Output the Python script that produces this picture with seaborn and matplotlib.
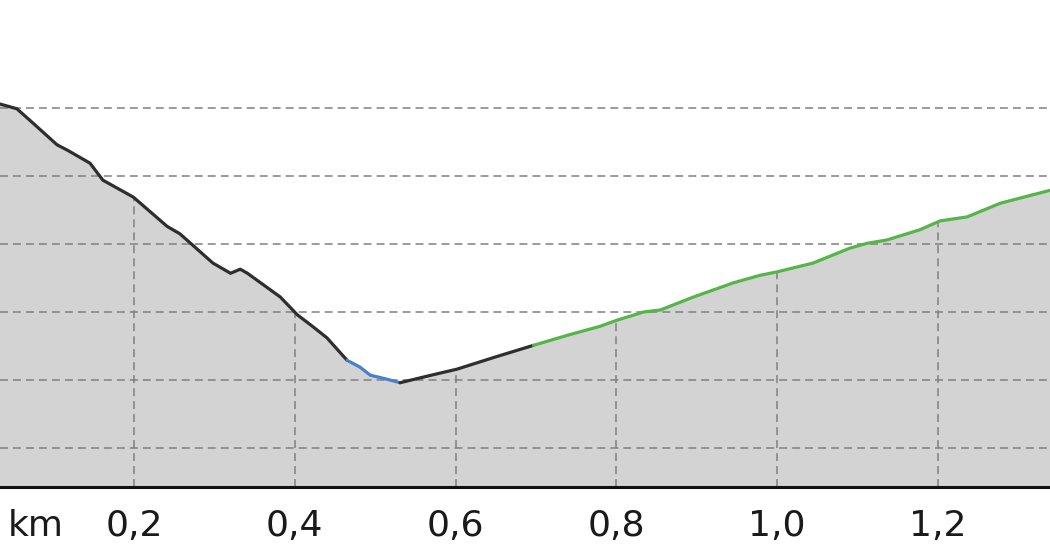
import numpy as np
import pandas as pd
import seaborn as sns
import matplotlib.pyplot as plt

# profile: distance (km) and relative elevation (m)
dist_km = [0.033, 0.054, 0.074, 0.104, 0.117, 0.145, 0.161, 0.199, 0.241, 0.257,
           0.298, 0.320, 0.332, 0.341, 0.382, 0.403, 0.423, 0.440, 0.465, 0.481,
           0.494, 0.512, 0.531, 0.566, 0.602, 0.650, 0.697, 0.740, 0.780, 0.801,
           0.834, 0.855, 0.896, 0.946, 0.979, 1.000, 1.045, 1.091, 1.112, 1.137,
           1.178, 1.203, 1.237, 1.278, 1.340]
elev_m = [60.6, 59.9, 57.8, 54.6, 53.8, 51.9, 49.4, 46.9, 42.6, 41.5,
          37.2, 35.7, 36.3, 35.7, 32.2, 29.6, 27.8, 26.2, 22.9, 21.9,
          20.7, 20.2, 19.6, 20.6, 21.6, 23.4, 25.1, 26.6, 27.9, 28.8,
          30.0, 30.3, 32.2, 34.3, 35.4, 35.9, 37.2, 39.4, 40.1, 40.6,
          42.1, 43.4, 44.0, 46.0, 47.9]

# coloured stretches of the track (start km, end km, colour)
seg_start = [0.033, 0.465, 0.531, 0.697]
seg_end = [0.465, 0.531, 0.697, 1.340]
seg_color = ['#2e2e2e', '#4a7fcb', '#2e2e2e', '#56b548']

tick_km = [0.2, 0.4, 0.6, 0.8, 1.0, 1.2]
tick_labels = ['0,2', '0,4', '0,6', '0,8', '1,0', '1,2']
grid_elev = [10, 20, 30, 40, 50, 60]

df = pd.DataFrame({'km': dist_km, 'elev': elev_m})

sns.set_theme(style='white')
plt.rcParams['font.family'] = ['DejaVu Sans']

fig = plt.figure(figsize=(10.5, 5.6), dpi=100)
ax = fig.add_axes([0, 73 / 560, 1, 487 / 560])

ymin, ymax = 4.26, 75.9
ax.fill_between(df['km'], df['elev'], ymin, color='#d3d3d3', lw=0, zorder=1)

# grid: horizontals across, verticals only below the profile
for g in grid_elev:
    ax.axhline(g, color='#808080', lw=1.1, ls=(0, (5.2, 3.3)), zorder=2)
ax.vlines(tick_km, ymin, np.interp(tick_km, df['km'], df['elev']),
          color='#808080', lw=1.1, ls=(0, (5.2, 3.3)), zorder=2)

for s, e, c in zip(seg_start, seg_end, seg_color):
    part = df[(df['km'] >= s) & (df['km'] <= e)]
    sns.lineplot(data=part, x='km', y='elev', color=c, lw=2.3, ax=ax,
                 sort=False, estimator=None, zorder=3)

ax.set_xlim(0.033, 1.340)
ax.set_ylim(ymin, ymax)
ax.set_xticks([0.077] + tick_km)
ax.set_xticklabels(['km'] + tick_labels)
ax.set_yticks([])
ax.tick_params(axis='x', length=0, pad=16, labelsize=26, colors='#1a1a1a')
ax.set_xlabel('')
ax.set_ylabel('')
for side in ['top', 'left', 'right']:
    ax.spines[side].set_visible(False)
ax.spines['bottom'].set_color('#111111')
ax.spines['bottom'].set_linewidth(2.2)
ax.spines['bottom'].set_zorder(4)

fig.savefig('out.png', dpi=100)
